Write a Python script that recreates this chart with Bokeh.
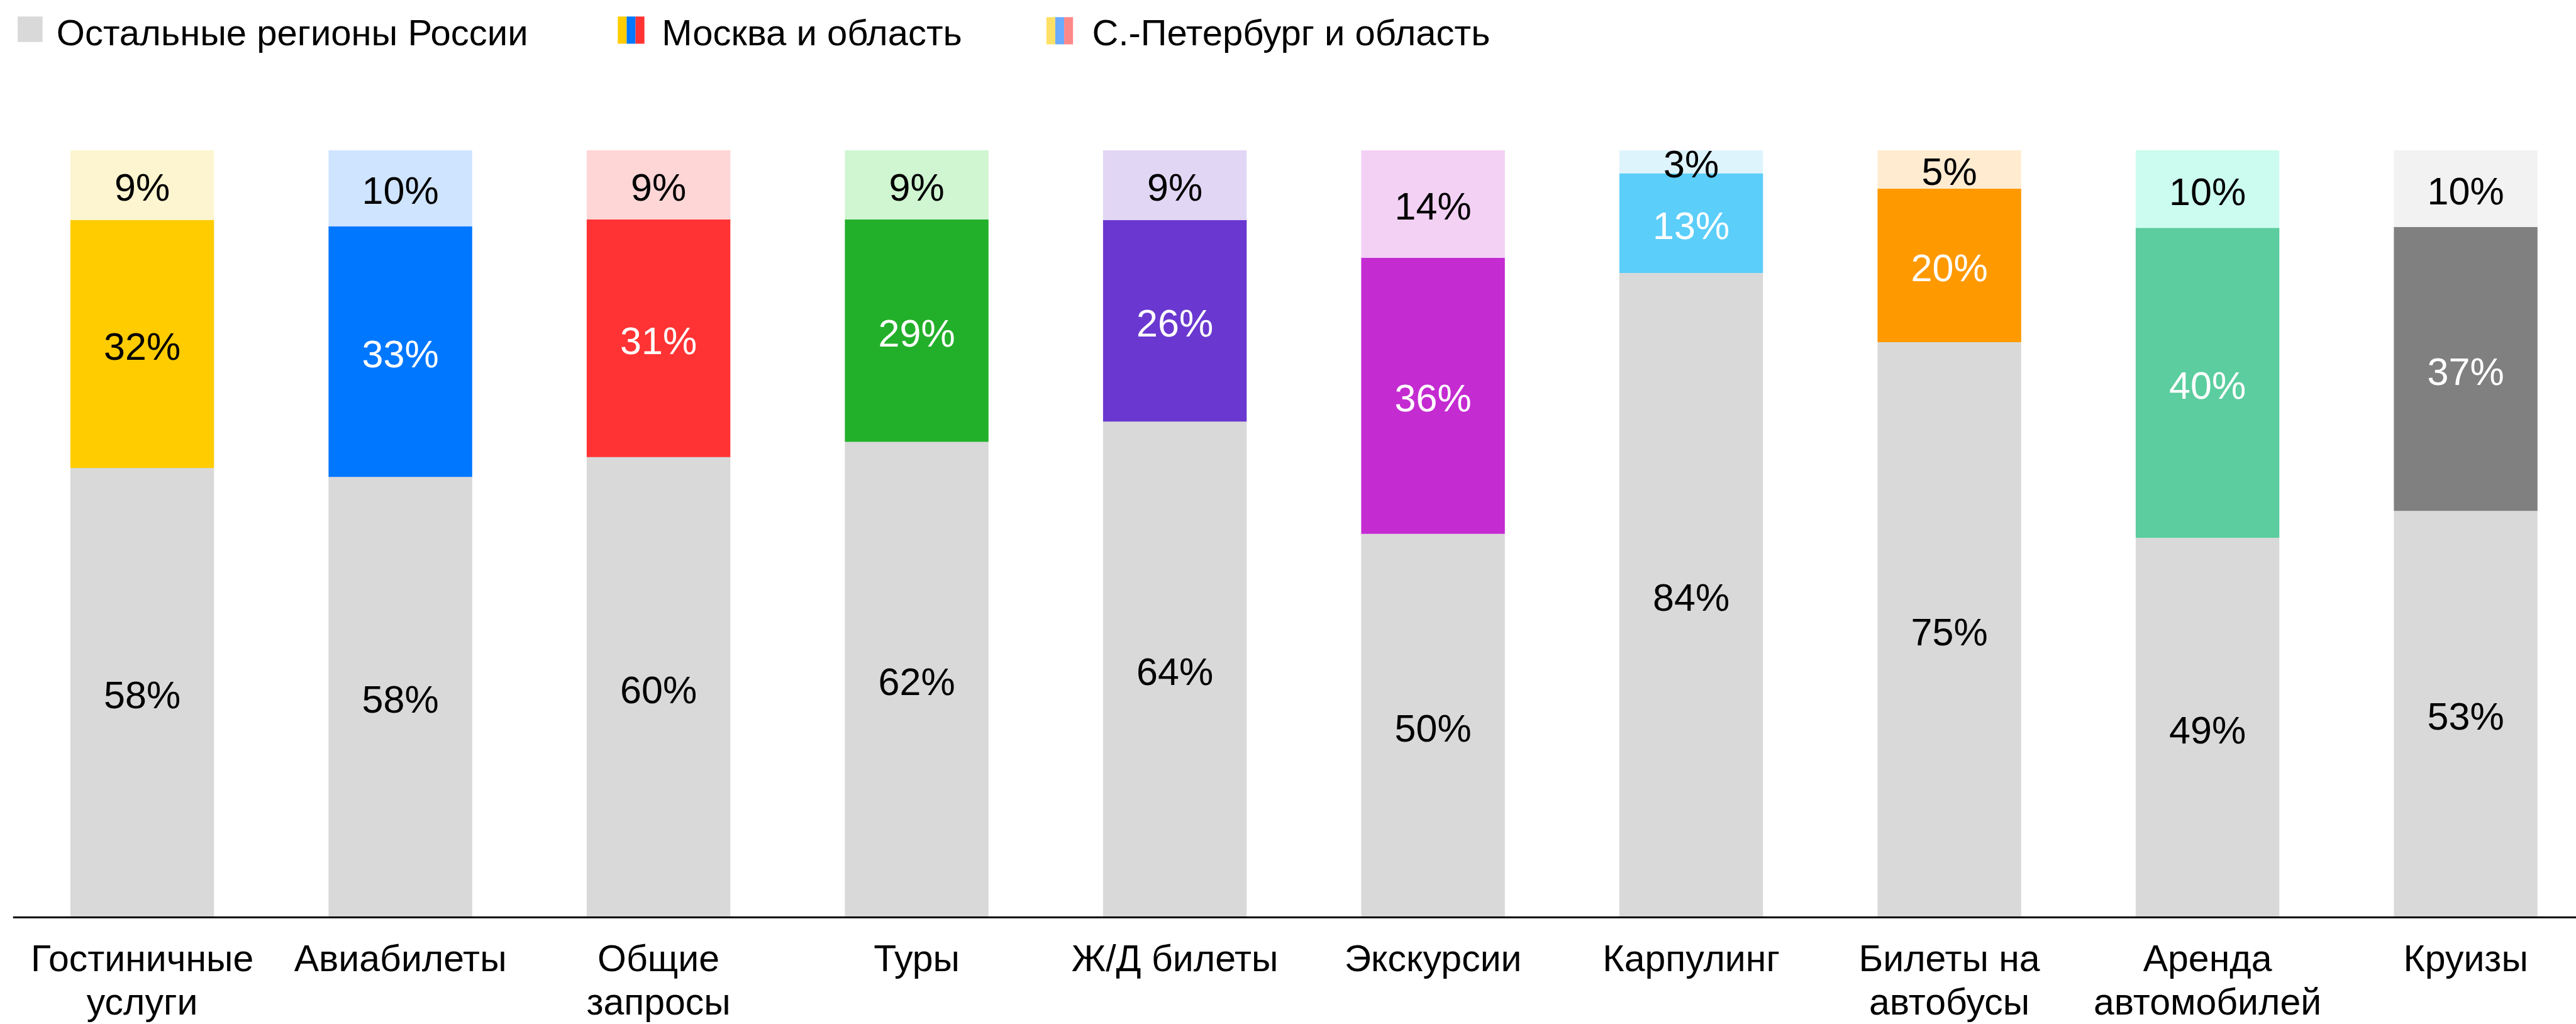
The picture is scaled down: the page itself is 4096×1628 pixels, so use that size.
from bokeh.plotting import figure
from bokeh.models import Range1d, FixedTicker, ColumnDataSource
from bokeh.embed import file_html
from bokeh.resources import INLINE
from bokeh.core.properties import value

# ---------------- data ----------------
categories = ["Гостиничные\nуслуги", "Авиабилеты", "Общие\nзапросы", "Туры", "Ж/Д билеты",
              "Экскурсии", "Карпулинг", "Билеты на\nавтобусы", "Аренда\nавтомобилей", "Круизы"]
rest_pct = [58, 58, 60, 62, 64, 50, 84, 75, 49, 53]
moscow_pct = [32, 33, 31, 29, 26, 36, 13, 20, 40, 37]
spb_pct = [9, 10, 9, 9, 9, 14, 3, 5, 10, 10]

series_names = ["Остальные регионы России", "Москва и область", "С.-Петербург и область"]

rest_color = "#D9D9D9"
moscow_colors = ["#FFCC00", "#0077FF", "#FF3333", "#22B02A", "#6A38D0",
                 "#C42BD1", "#5BCEFA", "#FF9900", "#5BCD9E", "#808080"]
spb_colors = ["#FDF5D0", "#CFE4FF", "#FFD6D6", "#CFF5D1", "#E2D6F5",
              "#F3D1F5", "#DDF4FD", "#FFEBD0", "#CCFCEF", "#F2F2F2"]
moscow_label_colors = ["black", "white", "white", "white", "white",
                       "white", "white", "white", "white", "white"]
legend_moscow = ["#FFCC00", "#0077FF", "#FF3333"]
legend_spb = ["#FFE066", "#6AABFF", "#FF8888"]

FONT = value("Liberation Sans")

# ---------------- geometry (px) ----------------
W, H = 4096, 1628
FRAME_LEFT = 20
STEP = 410.5          # px between bar centres
FIRST_C = 225.6       # px of first bar centre
AXIS_Y = 1458.0       # px of baseline
PX_PER_PCT = 12.195   # px per percentage point


def xd(px):
    return (px - FIRST_C) / STEP


def yd(py):
    return (AXIS_Y - py) / PX_PER_PCT


BAR_W = 228.4 / STEP

# ---------------- stacked bars ----------------
xs = list(range(len(categories)))
bars = {"x": [], "bottom": [], "top": [], "color": []}
labels = {"x": [], "y": [], "t": [], "c": []}
for i in xs:
    total = rest_pct[i] + moscow_pct[i] + spb_pct[i]
    segs = [(rest_pct[i], rest_color, "black"),
            (moscow_pct[i], moscow_colors[i], moscow_label_colors[i]),
            (spb_pct[i], spb_colors[i], "black")]
    base = 0.0
    for v, col, tc in segs:
        h = 100.0 * v / total
        bars["x"].append(i)
        bars["bottom"].append(base)
        bars["top"].append(base + h)
        bars["color"].append(col)
        labels["x"].append(i)
        labels["y"].append(base + h / 2)
        labels["t"].append(f"{v}%")
        labels["c"].append(tc)
        base += h

p = figure(width=W, height=H, x_range=Range1d(xd(FRAME_LEFT), xd(W)),
           y_range=Range1d(yd(H), yd(0)),
           output_backend="svg", toolbar_location=None, y_axis_location=None,
           min_border_left=FRAME_LEFT, min_border_right=0, min_border_top=0,
           min_border_bottom=0)
p.xgrid.visible = False
p.ygrid.visible = False
p.outline_line_color = None
p.background_fill_color = "white"
p.border_fill_color = "white"

p.vbar(x="x", bottom="bottom", top="top", width=BAR_W, fill_color="color",
       line_color=None, source=ColumnDataSource(bars))
p.text(x="x", y="y", text="t", text_color="c", text_font=FONT, text_font_size="61px",
       text_align="center", text_baseline="middle", y_offset=4,
       source=ColumnDataSource(labels))

ax = p.xaxis[0]
ax.fixed_location = 0
ax.ticker = FixedTicker(ticks=xs)
ax.major_label_overrides = {i: c for i, c in zip(xs, categories)}
ax.major_tick_line_color = None
ax.major_tick_out = 0
ax.major_tick_in = 0
ax.minor_tick_line_color = None
ax.axis_line_color = "black"
ax.axis_line_width = 2.8
ax.major_label_text_font = "Liberation Sans"
ax.major_label_text_font_size = "59px"
ax.major_label_text_color = "black"
ax.major_label_standoff = 32
ax.major_label_text_line_height = 1.06

# ---------------- legend (positions in px, converted to data) ----------------
sw = {"l": [xd(27.6)], "r": [xd(67.2)], "t": [yd(25.8)], "b": [yd(66.3)], "c": [rest_color]}
for k, col in enumerate(legend_moscow):
    sw["l"].append(xd(981.8 + 14.13 * k))
    sw["r"].append(xd(981.8 + 14.13 * (k + 1)))
    sw["t"].append(yd(25.8))
    sw["b"].append(yd(69.1))
    sw["c"].append(col)
for k, col in enumerate(legend_spb):
    sw["l"].append(xd(1663.3 + 14.13 * k))
    sw["r"].append(xd(1663.3 + 14.13 * (k + 1)))
    sw["t"].append(yd(26.7))
    sw["b"].append(yd(70.0))
    sw["c"].append(col)
p.quad(left="l", right="r", top="t", bottom="b", fill_color="c", line_color=None,
       source=ColumnDataSource(sw))
p.text(x=[xd(89.3), xd(1051.8), xd(1736.0)], y=[yd(45.6)] * 3, text=series_names,
       text_font=FONT, text_font_size="58px", text_color="black",
       text_align="left", text_baseline="middle", y_offset=5)

open("out.html", "w").write(file_html(p, INLINE))
